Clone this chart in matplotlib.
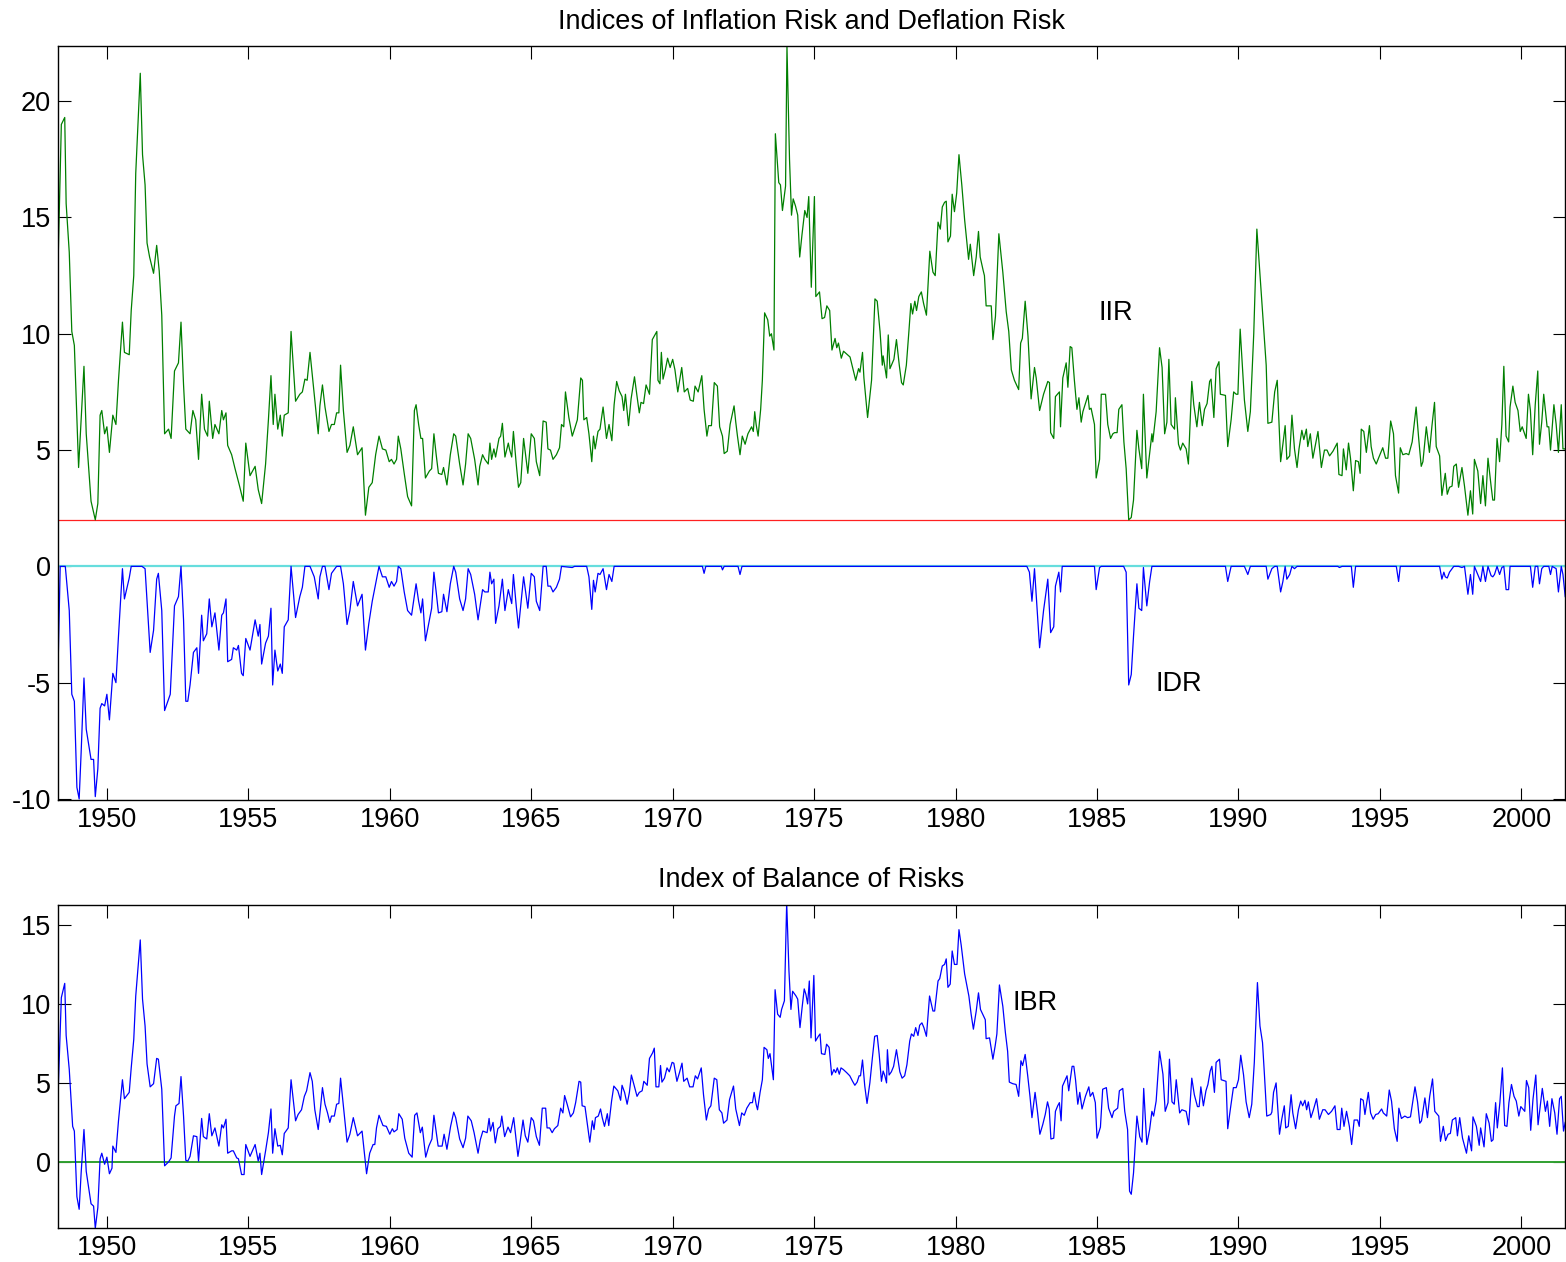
import numpy as np
import matplotlib.pyplot as plt

plt.rcParams['font.family'] = ['Liberation Sans', 'DejaVu Sans']
plt.rcParams['axes.unicode_minus'] = False

# IIR: (year, value)
iir = np.array([
    (1948.27, 12.8), (1948.39, 19.0), (1948.51, 19.3), (1948.56, 15.6), (1948.67, 13.5),
    (1948.76, 10.1), (1948.85, 9.5), (1949.0, 4.25), (1949.19, 8.6), (1949.27, 5.7),
    (1949.44, 2.8), (1949.59, 2.0), (1949.68, 2.7), (1949.76, 6.5), (1949.82, 6.7),
    (1949.92, 5.7), (1950.0, 6.0), (1950.09, 4.9), (1950.21, 6.5), (1950.32, 6.1),
    (1950.41, 8.0), (1950.55, 10.5), (1950.62, 9.2), (1950.79, 9.1), (1950.86, 11.0),
    (1950.95, 12.5), (1951.02, 16.9), (1951.18, 21.2), (1951.26, 17.7), (1951.35, 16.4),
    (1951.42, 13.9), (1951.51, 13.3), (1951.65, 12.6), (1951.76, 13.8), (1951.85, 12.7),
    (1951.94, 10.8), (1952.04, 5.7), (1952.18, 5.9), (1952.27, 5.5), (1952.39, 8.4),
    (1952.53, 8.75), (1952.62, 10.5), (1952.71, 7.8), (1952.79, 5.9), (1952.94, 5.7),
    (1953.04, 6.7), (1953.14, 6.3), (1953.24, 4.6), (1953.35, 7.4), (1953.45, 5.9),
    (1953.56, 5.6), (1953.62, 7.1), (1953.74, 5.5), (1953.82, 6.1), (1953.96, 5.7),
    (1954.06, 6.7), (1954.12, 6.3), (1954.21, 6.6), (1954.27, 5.2), (1954.41, 4.8),
    (1954.53, 4.2), (1954.68, 3.5), (1954.82, 2.8), (1954.91, 5.3), (1955.06, 3.9),
    (1955.24, 4.3), (1955.35, 3.3), (1955.47, 2.7), (1955.61, 4.4), (1955.71, 6.3),
    (1955.8, 8.2), (1955.88, 6.1), (1955.94, 7.4), (1956.04, 5.9), (1956.13, 6.5),
    (1956.2, 5.6), (1956.27, 6.5), (1956.41, 6.6), (1956.51, 10.1), (1956.67, 7.1),
    (1956.82, 7.4), (1956.91, 7.5), (1957.0, 8.05), (1957.08, 8.0), (1957.18, 9.2),
    (1957.33, 7.4), (1957.47, 5.7), (1957.53, 6.9), (1957.62, 7.8), (1957.71, 6.85),
    (1957.85, 5.8), (1957.94, 6.1), (1958.04, 6.1), (1958.12, 6.6), (1958.2, 6.6),
    (1958.26, 8.65), (1958.36, 6.7), (1958.49, 4.9), (1958.59, 5.2), (1958.71, 6.0),
    (1958.86, 4.8), (1959.02, 5.1), (1959.14, 2.2), (1959.26, 3.4), (1959.38, 3.6),
    (1959.5, 4.8), (1959.62, 5.6), (1959.74, 5.05), (1959.86, 5.0), (1959.98, 4.5),
    (1960.06, 4.6), (1960.15, 4.4), (1960.24, 4.6), (1960.3, 5.6), (1960.39, 5.05),
    (1960.51, 4.0), (1960.63, 3.0), (1960.77, 2.6), (1960.87, 6.7), (1960.93, 6.95),
    (1961.02, 6.1), (1961.1, 5.5), (1961.16, 5.5), (1961.26, 3.8), (1961.4, 4.1),
    (1961.48, 4.2), (1961.56, 5.7), (1961.64, 4.8), (1961.72, 4.0), (1961.84, 3.95),
    (1961.9, 4.25), (1962.02, 3.5), (1962.14, 4.8), (1962.26, 5.7), (1962.33, 5.6),
    (1962.47, 4.4), (1962.59, 3.5), (1962.68, 4.4), (1962.77, 5.7), (1962.86, 5.5),
    (1963.0, 4.6), (1963.12, 3.5), (1963.18, 4.3), (1963.28, 4.8), (1963.36, 4.6),
    (1963.48, 4.4), (1963.54, 5.3), (1963.6, 4.6), (1963.68, 5.05), (1963.74, 4.7),
    (1963.86, 5.5), (1963.92, 5.6), (1963.98, 6.15), (1964.07, 4.7), (1964.19, 5.3),
    (1964.23, 5.05), (1964.31, 4.7), (1964.37, 5.8), (1964.47, 4.4), (1964.55, 3.4),
    (1964.63, 3.6), (1964.73, 5.5), (1964.88, 4.0), (1965.0, 5.7), (1965.11, 5.5),
    (1965.18, 4.5), (1965.3, 3.9), (1965.42, 6.25), (1965.53, 6.2), (1965.59, 5.05),
    (1965.68, 5.0), (1965.77, 4.6), (1965.89, 4.8), (1966.0, 5.1), (1966.07, 6.1),
    (1966.15, 6.0), (1966.21, 7.5), (1966.33, 6.4), (1966.45, 5.6), (1966.53, 5.9),
    (1966.63, 6.3), (1966.75, 8.1), (1966.81, 8.0), (1966.86, 6.3), (1966.96, 6.4),
    (1967.04, 5.7), (1967.14, 4.5), (1967.2, 5.6), (1967.26, 5.05), (1967.36, 5.8),
    (1967.43, 5.9), (1967.54, 6.85), (1967.66, 5.5), (1967.75, 6.1), (1967.85, 5.4),
    (1967.93, 6.95), (1968.02, 7.95), (1968.11, 7.55), (1968.21, 7.3), (1968.27, 6.7),
    (1968.33, 7.4), (1968.44, 6.05), (1968.53, 7.2), (1968.65, 8.15), (1968.73, 7.4),
    (1968.82, 6.6), (1968.88, 7.05), (1968.97, 7.0), (1969.06, 7.8), (1969.18, 7.4),
    (1969.28, 9.75), (1969.44, 10.1), (1969.48, 8.0), (1969.55, 7.85), (1969.6, 9.2),
    (1969.66, 8.05), (1969.74, 8.45), (1969.82, 8.95), (1969.91, 8.55), (1970.0, 8.9),
    (1970.08, 8.45), (1970.18, 7.5), (1970.32, 8.55), (1970.41, 7.5), (1970.53, 7.65),
    (1970.62, 7.15), (1970.73, 7.1), (1970.79, 7.75), (1970.9, 7.5), (1971.03, 8.2),
    (1971.11, 6.75), (1971.21, 5.6), (1971.27, 6.05), (1971.37, 6.05), (1971.47, 7.9),
    (1971.58, 7.75), (1971.66, 6.0), (1971.76, 5.6), (1971.82, 4.85), (1971.93, 4.95),
    (1972.03, 6.1), (1972.17, 6.9), (1972.23, 6.2), (1972.29, 5.6), (1972.38, 4.8),
    (1972.46, 5.6), (1972.56, 5.25), (1972.66, 5.7), (1972.79, 6.0), (1972.85, 5.8),
    (1972.9, 6.65), (1972.95, 6.1), (1973.02, 5.6), (1973.11, 6.75), (1973.17, 8.0),
    (1973.25, 10.9), (1973.36, 10.6), (1973.43, 9.9), (1973.49, 10.0), (1973.58, 9.3),
    (1973.63, 18.6), (1973.75, 16.5), (1973.81, 16.4), (1973.88, 15.3), (1973.99, 16.35),
    (1974.04, 22.35), (1974.13, 17.5), (1974.2, 15.1), (1974.26, 15.8), (1974.34, 15.5),
    (1974.42, 15.1), (1974.49, 13.3), (1974.57, 14.25), (1974.67, 15.3), (1974.75, 15.0),
    (1974.81, 15.9), (1974.9, 12.0), (1975.01, 15.9), (1975.06, 11.6), (1975.19, 11.8),
    (1975.28, 10.65), (1975.37, 10.7), (1975.45, 11.2), (1975.55, 11.0), (1975.63, 9.3),
    (1975.74, 9.8), (1975.8, 9.4), (1975.86, 9.6), (1975.96, 8.95), (1976.04, 9.25),
    (1976.27, 9.0), (1976.37, 8.5), (1976.47, 8.0), (1976.57, 8.5), (1976.62, 8.35),
    (1976.71, 9.2), (1976.76, 8.1), (1976.89, 6.4), (1977.03, 8.0), (1977.15, 11.5),
    (1977.23, 11.4), (1977.33, 10.1), (1977.41, 8.65), (1977.44, 9.05), (1977.56, 8.1),
    (1977.62, 9.95), (1977.68, 8.5), (1977.82, 8.9), (1977.91, 9.75), (1978.01, 8.65),
    (1978.09, 7.9), (1978.15, 7.8), (1978.26, 8.65), (1978.35, 10.1), (1978.42, 11.3),
    (1978.48, 10.85), (1978.56, 11.4), (1978.62, 11.0), (1978.7, 11.6), (1978.79, 11.8),
    (1978.87, 11.3), (1978.97, 10.8), (1979.09, 13.55), (1979.2, 12.65), (1979.28, 12.5),
    (1979.38, 14.8), (1979.46, 14.5), (1979.53, 15.45), (1979.61, 15.65), (1979.67, 15.7),
    (1979.73, 13.95), (1979.82, 14.2), (1979.88, 16.0), (1979.96, 15.25), (1980.04, 16.05),
    (1980.12, 17.7), (1980.22, 16.4), (1980.32, 14.9), (1980.4, 13.95), (1980.46, 13.2),
    (1980.52, 13.85), (1980.64, 12.5), (1980.73, 13.3), (1980.81, 14.4), (1980.87, 13.3),
    (1980.97, 12.75), (1981.02, 12.5), (1981.08, 11.2), (1981.26, 11.2), (1981.32, 9.75),
    (1981.41, 10.75), (1981.53, 14.3), (1981.67, 12.65), (1981.79, 10.95), (1981.88, 10.1),
    (1981.97, 8.45), (1982.08, 8.0), (1982.23, 7.6), (1982.3, 9.6), (1982.36, 9.8),
    (1982.46, 11.4), (1982.56, 9.9), (1982.67, 7.2), (1982.79, 8.55), (1982.85, 8.1),
    (1982.97, 6.7), (1983.11, 7.4), (1983.26, 7.95), (1983.32, 7.9), (1983.36, 5.75),
    (1983.47, 5.5), (1983.53, 7.3), (1983.67, 7.5), (1983.71, 6.0), (1983.79, 8.1),
    (1983.91, 8.75), (1983.97, 7.7), (1984.05, 9.45), (1984.11, 9.4), (1984.2, 8.0),
    (1984.29, 6.75), (1984.36, 7.25), (1984.44, 6.2), (1984.5, 6.65), (1984.68, 7.35),
    (1984.73, 6.75), (1984.79, 6.8), (1984.91, 6.1), (1984.97, 3.8), (1985.09, 4.6),
    (1985.15, 7.4), (1985.3, 7.4), (1985.38, 6.1), (1985.48, 5.5), (1985.56, 5.7),
    (1985.62, 5.75), (1985.71, 5.75), (1985.77, 6.75), (1985.88, 6.95), (1985.95, 5.35),
    (1986.03, 4.2), (1986.12, 2.0), (1986.21, 2.1), (1986.29, 2.85), (1986.41, 5.85),
    (1986.48, 5.05), (1986.58, 4.2), (1986.64, 7.4), (1986.76, 3.8), (1986.86, 4.85),
    (1986.94, 5.7), (1986.97, 5.35), (1987.09, 6.65), (1987.21, 9.4), (1987.3, 8.55),
    (1987.39, 5.7), (1987.47, 6.2), (1987.54, 8.9), (1987.62, 6.1), (1987.74, 5.9),
    (1987.77, 7.25), (1987.88, 5.25), (1987.95, 5.0), (1988.03, 5.3), (1988.15, 5.05),
    (1988.23, 4.4), (1988.35, 7.95), (1988.42, 6.95), (1988.53, 6.0), (1988.62, 7.05),
    (1988.72, 6.05), (1988.8, 6.75), (1988.89, 7.0), (1988.98, 7.95), (1989.03, 8.05),
    (1989.13, 6.4), (1989.21, 8.5), (1989.31, 8.8), (1989.36, 7.4), (1989.54, 7.35),
    (1989.62, 5.15), (1989.74, 6.3), (1989.83, 7.5), (1989.92, 7.4), (1989.98, 7.4),
    (1990.06, 10.2), (1990.21, 7.15), (1990.33, 5.8), (1990.42, 6.65), (1990.54, 10.0),
    (1990.65, 14.5), (1990.86, 10.75), (1990.98, 8.65), (1991.04, 6.15), (1991.18, 6.2),
    (1991.28, 7.5), (1991.37, 8.0), (1991.49, 4.5), (1991.57, 5.25), (1991.65, 6.05),
    (1991.71, 4.6), (1991.81, 4.75), (1991.89, 6.5), (1991.98, 5.05), (1992.07, 4.25),
    (1992.14, 5.05), (1992.24, 5.85), (1992.31, 5.45), (1992.4, 5.9), (1992.45, 5.15),
    (1992.54, 5.7), (1992.63, 4.65), (1992.71, 5.15), (1992.81, 5.8), (1992.93, 4.25),
    (1993.04, 5.0), (1993.13, 5.0), (1993.22, 4.75), (1993.34, 4.95), (1993.49, 5.3),
    (1993.55, 3.95), (1993.66, 3.9), (1993.71, 5.05), (1993.81, 4.15), (1993.89, 5.3),
    (1993.96, 4.65), (1994.06, 3.25), (1994.14, 4.55), (1994.24, 4.5), (1994.3, 4.0),
    (1994.34, 5.9), (1994.43, 5.8), (1994.52, 4.9), (1994.63, 6.05), (1994.69, 5.15),
    (1994.77, 4.65), (1994.87, 4.4), (1994.95, 4.65), (1995.1, 5.1), (1995.2, 4.65),
    (1995.28, 4.65), (1995.38, 6.25), (1995.48, 5.7), (1995.55, 3.9), (1995.66, 3.15),
    (1995.72, 5.1), (1995.81, 4.8), (1995.93, 4.85), (1996.02, 4.8), (1996.14, 5.35),
    (1996.28, 6.85), (1996.37, 5.5), (1996.46, 4.3), (1996.52, 4.5), (1996.64, 6.0),
    (1996.75, 4.9), (1996.84, 6.05), (1996.93, 7.05), (1996.99, 5.15), (1997.11, 4.75),
    (1997.19, 3.05), (1997.31, 4.0), (1997.38, 3.1), (1997.46, 3.4), (1997.55, 3.45),
    (1997.61, 4.3), (1997.7, 4.4), (1997.78, 3.4), (1997.9, 4.25), (1997.99, 3.45),
    (1998.11, 2.2), (1998.2, 3.25), (1998.28, 2.25), (1998.34, 4.6), (1998.46, 4.1),
    (1998.56, 2.7), (1998.64, 3.9), (1998.73, 2.6), (1998.82, 4.65), (1998.93, 3.45),
    (1998.99, 2.85), (1999.05, 2.85), (1999.14, 5.5), (1999.23, 4.5), (1999.31, 6.1),
    (1999.38, 8.6), (1999.46, 5.6), (1999.55, 5.35), (1999.6, 6.85), (1999.7, 7.75),
    (1999.78, 7.05), (1999.88, 6.7), (1999.96, 5.8), (2000.03, 6.0), (2000.17, 5.5),
    (2000.25, 7.4), (2000.32, 6.7), (2000.4, 4.8), (2000.49, 6.95), (2000.58, 8.4),
    (2000.64, 5.25), (2000.72, 6.2), (2000.79, 7.4), (2000.91, 6.0), (2000.97, 6.0),
    (2001.03, 5.0), (2001.15, 6.95), (2001.23, 6.1), (2001.31, 4.9), (2001.41, 6.95),
    (2001.47, 5.05), (2001.55, 5.05),
])

# IDR: (year, value)
idr = np.array([
    (1948.27, -4.6), (1948.35, 0.0), (1948.53, 0.0), (1948.67, -1.9), (1948.76, -5.5),
    (1948.85, -5.8), (1948.94, -9.5), (1949.02, -10.0), (1949.09, -8.0), (1949.19, -4.8),
    (1949.27, -7.0), (1949.44, -8.3), (1949.53, -8.3), (1949.59, -9.9), (1949.68, -8.7),
    (1949.76, -6.1), (1949.82, -5.9), (1949.92, -6.0), (1950.0, -5.5), (1950.09, -6.6),
    (1950.21, -4.6), (1950.32, -5.0), (1950.41, -3.0), (1950.55, -0.1), (1950.62, -1.4),
    (1950.79, -0.5), (1950.86, 0.0), (1951.24, 0.0), (1951.35, -0.1), (1951.53, -3.7),
    (1951.65, -2.75), (1951.76, -0.55), (1951.82, -0.3), (1951.94, -1.9), (1952.04, -6.2),
    (1952.24, -5.5), (1952.39, -1.7), (1952.53, -1.3), (1952.62, 0.0), (1952.71, -2.3),
    (1952.79, -5.8), (1952.86, -5.8), (1952.94, -5.1), (1953.06, -3.7), (1953.18, -3.5),
    (1953.24, -4.6), (1953.35, -2.1), (1953.41, -3.2), (1953.53, -2.9), (1953.62, -1.4),
    (1953.71, -2.6), (1953.82, -2.0), (1953.96, -3.6), (1954.06, -2.1), (1954.12, -2.0),
    (1954.21, -1.4), (1954.27, -4.1), (1954.41, -4.0), (1954.47, -3.5), (1954.59, -3.6),
    (1954.65, -3.4), (1954.76, -4.6), (1954.82, -4.7), (1954.91, -3.1), (1955.06, -3.6),
    (1955.24, -2.3), (1955.35, -3.0), (1955.41, -2.5), (1955.47, -4.2), (1955.61, -3.3),
    (1955.71, -3.0), (1955.8, -1.8), (1955.86, -5.1), (1955.94, -3.6), (1956.04, -4.5),
    (1956.13, -4.2), (1956.2, -4.6), (1956.27, -2.6), (1956.41, -2.3), (1956.51, 0.0),
    (1956.67, -2.2), (1956.82, -1.3), (1956.91, -0.9), (1957.0, 0.0), (1957.18, 0.0),
    (1957.33, -0.45), (1957.47, -1.4), (1957.53, -0.45), (1957.62, 0.0), (1957.71, 0.0),
    (1957.85, -1.0), (1957.94, -0.3), (1958.12, 0.0), (1958.26, 0.0), (1958.36, -0.75),
    (1958.49, -2.5), (1958.59, -1.9), (1958.71, -0.65), (1958.86, -1.7), (1959.02, -1.2),
    (1959.14, -3.6), (1959.26, -2.45), (1959.38, -1.5), (1959.5, -0.75), (1959.62, 0.0),
    (1959.74, -0.45), (1959.86, -0.45), (1959.98, -0.9), (1960.06, -0.65), (1960.15, -0.85),
    (1960.24, -0.65), (1960.3, 0.0), (1960.39, -0.1), (1960.51, -1.1), (1960.63, -1.9),
    (1960.77, -2.1), (1960.93, -0.75), (1961.02, -1.5), (1961.1, -2.0), (1961.16, -1.4),
    (1961.26, -3.2), (1961.4, -2.3), (1961.48, -1.8), (1961.56, -0.25), (1961.64, -1.1),
    (1961.72, -2.0), (1961.84, -1.95), (1961.9, -1.2), (1962.02, -1.95), (1962.14, -0.75),
    (1962.26, 0.0), (1962.33, -0.25), (1962.47, -1.4), (1962.59, -1.9), (1962.68, -1.4),
    (1962.77, -0.1), (1962.86, -0.35), (1963.0, -1.2), (1963.12, -2.3), (1963.28, -1.0),
    (1963.36, -1.1), (1963.48, -1.1), (1963.54, -0.25), (1963.6, -0.75), (1963.68, -0.55),
    (1963.74, -2.45), (1963.86, -1.7), (1963.98, -0.55), (1964.07, -1.9), (1964.19, -1.0),
    (1964.31, -1.6), (1964.37, -0.35), (1964.47, -1.7), (1964.55, -2.65), (1964.73, -0.45),
    (1964.88, -1.8), (1965.0, -0.3), (1965.11, -0.45), (1965.18, -1.5), (1965.3, -1.9),
    (1965.42, 0.0), (1965.53, 0.0), (1965.59, -0.85), (1965.68, -0.85), (1965.77, -1.1),
    (1965.89, -0.9), (1966.0, -0.55), (1966.07, 0.0), (1966.45, -0.05), (1966.53, 0.0),
    (1966.96, 0.0), (1967.04, -0.45), (1967.14, -1.85), (1967.2, -0.6), (1967.26, -1.1),
    (1967.36, -0.3), (1967.43, -0.35), (1967.54, -0.1), (1967.66, -1.0), (1967.75, -0.35),
    (1967.85, -0.65), (1967.93, 0.0), (1971.05, 0.0), (1971.11, -0.3), (1971.17, 0.0),
    (1971.72, 0.0), (1971.76, -0.15), (1971.82, 0.0), (1972.31, 0.0), (1972.38, -0.35),
    (1972.45, 0.0), (1982.52, 0.0), (1982.61, -0.25), (1982.7, -1.5), (1982.79, -0.1),
    (1982.97, -3.5), (1983.11, -1.9), (1983.26, -0.55), (1983.36, -2.85), (1983.47, -2.6),
    (1983.53, -0.85), (1983.65, -0.25), (1983.71, -1.1), (1983.77, 0.0), (1984.91, 0.0),
    (1984.97, -1.0), (1985.09, -0.05), (1985.15, 0.0), (1985.94, 0.0), (1986.03, -0.25),
    (1986.12, -5.1), (1986.21, -4.65), (1986.29, -3.0), (1986.41, -0.75), (1986.48, -1.8),
    (1986.58, -1.9), (1986.64, -0.05), (1986.76, -1.7), (1986.86, -0.65), (1986.94, 0.0),
    (1989.54, 0.0), (1989.62, -0.65), (1989.74, 0.0), (1990.21, 0.0), (1990.33, -0.35),
    (1990.42, 0.0), (1990.98, 0.0), (1991.04, -0.55), (1991.18, -0.1), (1991.28, 0.0),
    (1991.37, 0.0), (1991.49, -1.1), (1991.57, -0.65), (1991.65, 0.0), (1991.71, -0.55),
    (1991.81, -0.35), (1991.89, 0.0), (1991.98, -0.1), (1992.07, 0.0), (1993.51, 0.0),
    (1993.57, -0.05), (1993.66, 0.0), (1993.99, 0.0), (1994.06, -0.9), (1994.14, 0.0),
    (1995.58, 0.0), (1995.66, -0.65), (1995.72, 0.0), (1997.11, 0.0), (1997.19, -0.55),
    (1997.26, -0.25), (1997.31, -0.45), (1997.38, -0.5), (1997.46, -0.25), (1997.55, -0.1),
    (1997.61, 0.0), (1997.78, 0.0), (1997.9, -0.05), (1997.99, 0.0), (1998.11, -1.2),
    (1998.2, -0.35), (1998.28, -1.2), (1998.34, 0.0), (1998.46, -0.35), (1998.56, -0.65),
    (1998.64, 0.0), (1998.73, -0.65), (1998.82, 0.0), (1998.93, -0.4), (1998.99, -0.45),
    (1999.05, -0.35), (1999.14, 0.0), (1999.23, -0.35), (1999.31, -0.05), (1999.38, 0.0),
    (1999.46, -1.0), (1999.55, -1.0), (1999.6, 0.0), (2000.32, 0.0), (2000.4, -0.9),
    (2000.49, 0.0), (2000.58, 0.0), (2000.64, -0.75), (2000.72, -0.1), (2000.79, 0.0),
    (2000.97, 0.0), (2001.03, -0.35), (2001.09, 0.0), (2001.23, -0.1), (2001.31, -1.1),
    (2001.41, 0.0), (2001.47, -0.35), (2001.55, -1.3),
])

# IBR: (year, value)
ibr = np.array([
    (1948.27, 4.05), (1948.39, 10.4), (1948.51, 11.3), (1948.56, 8.0), (1948.67, 5.85),
    (1948.79, 2.25), (1948.85, 1.95), (1948.94, -2.2), (1949.02, -3.0), (1949.09, -0.7),
    (1949.19, 2.05), (1949.27, -0.6), (1949.44, -2.65), (1949.53, -2.8), (1949.59, -4.2),
    (1949.68, -2.9), (1949.76, 0.2), (1949.82, 0.55), (1949.92, -0.15), (1950.0, 0.3),
    (1950.09, -0.75), (1950.18, -0.4), (1950.21, 1.0), (1950.32, 0.6), (1950.41, 2.6),
    (1950.55, 5.2), (1950.62, 4.0), (1950.79, 4.4), (1950.86, 5.95), (1950.95, 7.75),
    (1951.02, 10.5), (1951.18, 14.05), (1951.26, 10.3), (1951.35, 8.6), (1951.42, 6.2),
    (1951.53, 4.75), (1951.65, 4.95), (1951.76, 6.55), (1951.82, 6.5), (1951.94, 4.6),
    (1952.04, -0.25), (1952.18, 0.0), (1952.27, 0.25), (1952.39, 2.9), (1952.44, 3.55),
    (1952.55, 3.7), (1952.62, 5.4), (1952.71, 2.9), (1952.79, 0.1), (1952.86, 0.05),
    (1952.94, 0.35), (1953.06, 1.65), (1953.18, 1.6), (1953.24, 0.05), (1953.35, 2.75),
    (1953.41, 1.6), (1953.53, 1.45), (1953.62, 3.05), (1953.71, 1.65), (1953.82, 2.15),
    (1953.96, 1.0), (1954.06, 2.35), (1954.12, 2.15), (1954.21, 2.7), (1954.27, 0.55),
    (1954.41, 0.7), (1954.47, 0.7), (1954.59, 0.25), (1954.65, 0.2), (1954.76, -0.8),
    (1954.85, -0.8), (1954.91, 1.1), (1955.06, 0.35), (1955.24, 1.1), (1955.35, 0.05),
    (1955.41, 0.55), (1955.47, -0.8), (1955.61, 0.7), (1955.71, 1.85), (1955.8, 3.35),
    (1955.86, 0.55), (1955.94, 2.1), (1956.04, 1.0), (1956.13, 1.05), (1956.2, 0.45),
    (1956.27, 1.8), (1956.41, 2.15), (1956.51, 5.2), (1956.67, 2.6), (1956.76, 3.0),
    (1956.88, 3.3), (1956.98, 4.15), (1957.06, 4.5), (1957.18, 5.65), (1957.26, 5.1),
    (1957.35, 3.3), (1957.47, 2.05), (1957.55, 3.4), (1957.62, 4.7), (1957.71, 3.65),
    (1957.8, 3.1), (1957.88, 2.5), (1957.94, 2.9), (1958.04, 2.9), (1958.12, 3.65),
    (1958.2, 3.7), (1958.26, 5.3), (1958.36, 3.55), (1958.49, 1.25), (1958.59, 1.75),
    (1958.71, 2.8), (1958.86, 1.65), (1959.02, 1.95), (1959.18, -0.75), (1959.29, 0.55),
    (1959.41, 1.1), (1959.47, 1.1), (1959.53, 2.15), (1959.62, 2.95), (1959.76, 2.3),
    (1959.88, 2.25), (1960.0, 1.75), (1960.09, 2.1), (1960.15, 1.9), (1960.26, 2.05),
    (1960.32, 3.05), (1960.44, 2.7), (1960.53, 1.5), (1960.67, 0.55), (1960.79, 0.3),
    (1960.88, 2.95), (1960.96, 3.1), (1961.08, 1.85), (1961.15, 2.2), (1961.27, 0.3),
    (1961.38, 1.0), (1961.49, 1.45), (1961.56, 2.95), (1961.71, 1.0), (1961.85, 1.0),
    (1961.92, 1.75), (1962.02, 0.8), (1962.15, 2.25), (1962.26, 3.15), (1962.33, 2.8),
    (1962.47, 1.45), (1962.59, 0.9), (1962.68, 1.5), (1962.76, 2.9), (1962.88, 2.6),
    (1962.98, 1.85), (1963.12, 0.55), (1963.2, 1.4), (1963.29, 1.95), (1963.44, 1.85),
    (1963.51, 2.75), (1963.56, 1.95), (1963.65, 2.5), (1963.73, 1.2), (1963.82, 2.1),
    (1963.91, 2.25), (1963.96, 2.9), (1964.06, 1.6), (1964.18, 2.2), (1964.27, 1.85),
    (1964.38, 2.8), (1964.53, 0.35), (1964.61, 1.3), (1964.71, 2.65), (1964.79, 1.65),
    (1964.88, 1.25), (1965.0, 2.8), (1965.08, 2.6), (1965.18, 1.6), (1965.29, 1.05),
    (1965.39, 3.4), (1965.51, 3.4), (1965.56, 2.15), (1965.65, 2.15), (1965.74, 1.85),
    (1965.82, 2.1), (1965.94, 2.3), (1966.04, 3.4), (1966.12, 3.1), (1966.18, 4.2),
    (1966.27, 3.65), (1966.39, 2.85), (1966.49, 3.1), (1966.57, 3.75), (1966.69, 5.1),
    (1966.75, 5.05), (1966.8, 3.55), (1966.9, 3.5), (1966.98, 2.45), (1967.07, 1.25),
    (1967.16, 2.6), (1967.22, 2.05), (1967.27, 2.8), (1967.37, 2.9), (1967.45, 3.35),
    (1967.51, 2.8), (1967.59, 2.25), (1967.69, 3.05), (1967.74, 2.3), (1967.84, 3.85),
    (1967.92, 4.8), (1968.06, 4.5), (1968.16, 3.9), (1968.21, 4.85), (1968.3, 4.4),
    (1968.39, 3.65), (1968.47, 4.4), (1968.54, 5.5), (1968.63, 4.9), (1968.74, 4.15),
    (1968.82, 4.4), (1968.92, 4.5), (1968.98, 5.1), (1969.1, 4.85), (1969.18, 6.55),
    (1969.29, 6.9), (1969.35, 7.2), (1969.41, 4.75), (1969.51, 4.75), (1969.57, 6.1),
    (1969.62, 5.05), (1969.71, 5.3), (1969.8, 5.95), (1969.88, 5.7), (1969.98, 6.3),
    (1970.04, 6.25), (1970.15, 5.1), (1970.24, 5.65), (1970.33, 6.25), (1970.39, 5.1),
    (1970.51, 5.3), (1970.6, 4.75), (1970.72, 4.75), (1970.8, 5.45), (1970.88, 5.25),
    (1971.01, 5.95), (1971.09, 4.25), (1971.19, 2.65), (1971.27, 3.35), (1971.35, 3.55),
    (1971.47, 5.3), (1971.56, 5.2), (1971.65, 3.3), (1971.74, 3.1), (1971.8, 2.45),
    (1971.92, 2.65), (1972.01, 3.95), (1972.15, 4.8), (1972.23, 3.35), (1972.36, 2.3),
    (1972.44, 3.1), (1972.53, 2.95), (1972.62, 3.4), (1972.74, 3.75), (1972.82, 3.75),
    (1972.88, 4.4), (1972.95, 3.65), (1973.0, 3.3), (1973.09, 4.4), (1973.17, 5.2),
    (1973.23, 7.25), (1973.33, 7.1), (1973.38, 6.55), (1973.44, 6.85), (1973.56, 5.2),
    (1973.62, 10.9), (1973.71, 9.35), (1973.8, 9.15), (1973.85, 9.65), (1973.95, 10.2),
    (1974.03, 16.4), (1974.11, 12.1), (1974.18, 9.65), (1974.24, 10.8), (1974.36, 10.5),
    (1974.42, 10.3), (1974.5, 8.5), (1974.58, 9.85), (1974.65, 10.95), (1974.71, 10.6),
    (1974.77, 10.0), (1974.83, 11.45), (1974.89, 7.85), (1974.99, 11.8), (1975.05, 7.65),
    (1975.15, 7.95), (1975.21, 8.1), (1975.26, 6.85), (1975.38, 6.8), (1975.44, 7.45),
    (1975.53, 7.25), (1975.62, 5.5), (1975.7, 5.85), (1975.76, 5.65), (1975.82, 5.95),
    (1975.89, 5.55), (1975.95, 5.95), (1976.03, 5.85), (1976.15, 5.65), (1976.26, 5.45),
    (1976.36, 5.1), (1976.44, 4.85), (1976.52, 5.05), (1976.59, 5.45), (1976.64, 5.45),
    (1976.71, 6.45), (1976.79, 4.8), (1976.87, 3.7), (1976.97, 5.0), (1977.06, 6.6),
    (1977.14, 7.95), (1977.23, 8.0), (1977.3, 6.8), (1977.38, 5.1), (1977.44, 5.75),
    (1977.5, 5.45), (1977.56, 5.0), (1977.59, 7.1), (1977.65, 5.5), (1977.73, 5.7),
    (1977.81, 6.05), (1977.91, 7.1), (1978.03, 5.7), (1978.11, 5.3), (1978.2, 5.45),
    (1978.28, 6.15), (1978.38, 7.65), (1978.44, 8.1), (1978.52, 7.95), (1978.59, 8.5),
    (1978.67, 8.0), (1978.73, 8.65), (1978.81, 8.8), (1978.88, 8.5), (1978.97, 7.95),
    (1979.08, 10.5), (1979.2, 9.55), (1979.26, 9.55), (1979.38, 11.45), (1979.44, 11.6),
    (1979.53, 12.4), (1979.61, 12.5), (1979.67, 12.85), (1979.73, 11.05), (1979.81, 11.25),
    (1979.88, 13.35), (1979.96, 12.5), (1980.05, 12.5), (1980.12, 14.7), (1980.2, 13.7),
    (1980.32, 11.9), (1980.38, 11.35), (1980.47, 10.5), (1980.55, 9.35), (1980.63, 8.4),
    (1980.73, 9.55), (1980.81, 10.7), (1980.88, 9.65), (1980.96, 9.35), (1981.05, 9.0),
    (1981.08, 7.8), (1981.2, 7.85), (1981.32, 6.5), (1981.4, 7.35), (1981.46, 8.1),
    (1981.55, 11.2), (1981.67, 9.85), (1981.76, 8.2), (1981.84, 7.0), (1981.9, 5.05),
    (1982.02, 4.95), (1982.14, 4.9), (1982.23, 4.15), (1982.31, 6.4), (1982.37, 6.1),
    (1982.46, 6.8), (1982.55, 5.45), (1982.63, 4.15), (1982.7, 2.8), (1982.81, 4.4),
    (1982.9, 3.1), (1982.98, 1.75), (1983.08, 2.35), (1983.17, 3.0), (1983.25, 3.8),
    (1983.31, 3.35), (1983.37, 1.45), (1983.47, 1.5), (1983.53, 3.2), (1983.61, 3.55),
    (1983.67, 3.75), (1983.73, 2.6), (1983.78, 4.8), (1983.94, 5.45), (1984.0, 4.5),
    (1984.12, 6.05), (1984.18, 6.05), (1984.24, 5.2), (1984.32, 3.65), (1984.39, 4.4),
    (1984.47, 3.35), (1984.59, 4.15), (1984.71, 4.75), (1984.76, 4.15), (1984.85, 4.4),
    (1984.94, 3.75), (1985.0, 1.5), (1985.12, 2.2), (1985.2, 4.6), (1985.33, 4.7),
    (1985.41, 3.4), (1985.53, 2.8), (1985.59, 3.2), (1985.73, 3.4), (1985.79, 4.5),
    (1985.91, 4.65), (1985.98, 3.2), (1986.08, 2.05), (1986.15, -1.85), (1986.21, -2.05),
    (1986.29, -0.7), (1986.41, 2.9), (1986.51, 1.6), (1986.59, 1.25), (1986.65, 4.65),
    (1986.76, 1.1), (1986.86, 2.05), (1986.94, 3.2), (1987.0, 2.9), (1987.09, 3.85),
    (1987.21, 7.0), (1987.33, 5.55), (1987.41, 3.2), (1987.51, 3.75), (1987.56, 6.5),
    (1987.65, 3.8), (1987.73, 3.65), (1987.8, 5.2), (1987.92, 3.1), (1988.0, 3.3),
    (1988.15, 3.2), (1988.24, 2.35), (1988.35, 5.3), (1988.44, 4.25), (1988.55, 3.5),
    (1988.61, 3.5), (1988.67, 4.75), (1988.76, 3.55), (1988.85, 4.5), (1988.92, 4.9),
    (1989.0, 5.75), (1989.06, 6.05), (1989.15, 4.4), (1989.21, 6.3), (1989.33, 6.5),
    (1989.39, 5.2), (1989.56, 5.1), (1989.62, 2.1), (1989.71, 3.3), (1989.82, 4.7),
    (1989.92, 4.7), (1990.0, 5.2), (1990.08, 6.75), (1990.18, 5.5), (1990.27, 3.8),
    (1990.38, 2.8), (1990.47, 3.65), (1990.56, 6.3), (1990.67, 11.35), (1990.76, 8.6),
    (1990.85, 7.55), (1990.92, 5.45), (1991.0, 2.9), (1991.14, 3.0), (1991.18, 3.15),
    (1991.24, 4.4), (1991.33, 5.0), (1991.45, 1.75), (1991.53, 2.7), (1991.62, 3.55),
    (1991.67, 2.15), (1991.76, 2.25), (1991.86, 4.25), (1991.92, 3.1), (1992.02, 2.1),
    (1992.12, 3.3), (1992.2, 3.85), (1992.27, 3.55), (1992.35, 3.9), (1992.41, 3.3),
    (1992.47, 3.8), (1992.56, 2.8), (1992.65, 3.3), (1992.76, 4.0), (1992.86, 2.7),
    (1992.98, 3.3), (1993.06, 3.3), (1993.18, 3.0), (1993.29, 3.2), (1993.41, 3.55),
    (1993.49, 2.05), (1993.59, 2.05), (1993.65, 3.4), (1993.73, 2.25), (1993.82, 3.2),
    (1993.92, 2.25), (1994.0, 1.1), (1994.09, 2.65), (1994.21, 2.65), (1994.27, 2.25),
    (1994.32, 4.0), (1994.41, 3.9), (1994.47, 3.0), (1994.59, 4.4), (1994.67, 3.1),
    (1994.76, 2.7), (1994.85, 3.0), (1994.94, 3.05), (1995.06, 3.35), (1995.12, 3.1),
    (1995.24, 2.9), (1995.33, 4.55), (1995.41, 3.85), (1995.51, 2.1), (1995.61, 1.3),
    (1995.67, 3.4), (1995.76, 2.75), (1995.88, 2.9), (1995.98, 2.8), (1996.08, 2.85),
    (1996.24, 4.75), (1996.33, 3.8), (1996.41, 2.45), (1996.47, 2.6), (1996.59, 4.05),
    (1996.68, 2.8), (1996.76, 4.15), (1996.86, 5.25), (1996.94, 3.2), (1997.08, 2.9),
    (1997.14, 1.3), (1997.24, 2.25), (1997.32, 1.35), (1997.41, 1.75), (1997.49, 1.8),
    (1997.56, 2.65), (1997.68, 2.8), (1997.74, 1.65), (1997.82, 2.8), (1997.92, 1.5),
    (1998.06, 0.55), (1998.14, 1.65), (1998.24, 0.7), (1998.29, 2.85), (1998.41, 2.25),
    (1998.51, 1.05), (1998.56, 2.15), (1998.68, 0.95), (1998.76, 3.05), (1998.86, 2.45),
    (1998.94, 1.3), (1999.0, 1.4), (1999.09, 3.75), (1999.15, 2.15), (1999.24, 3.75),
    (1999.33, 5.95), (1999.41, 2.3), (1999.49, 2.25), (1999.56, 3.75), (1999.65, 4.9),
    (1999.74, 4.15), (1999.82, 3.85), (1999.91, 2.9), (1999.98, 3.5), (2000.12, 3.2),
    (2000.18, 5.15), (2000.26, 4.7), (2000.33, 2.0), (2000.41, 3.95), (2000.51, 5.5),
    (2000.59, 2.35), (2000.67, 3.55), (2000.74, 4.65), (2000.85, 3.2), (2000.92, 3.85),
    (2001.0, 2.25), (2001.08, 4.0), (2001.18, 3.1), (2001.26, 1.75), (2001.35, 4.0),
    (2001.41, 4.15), (2001.49, 1.95), (2001.55, 2.5),
])

inflation_threshold = 2
year_ticks = list(range(1950, 2001, 5))
top_yticks = [-10, -5, 0, 5, 10, 15, 20]
bottom_yticks = [0, 5, 10, 15]

fs = 19.5
fig = plt.figure(figsize=(15.66, 12.62), dpi=100)
ax1 = fig.add_axes([0.037, 0.366, 0.9625, 0.5975])
ax2 = fig.add_axes([0.037, 0.027, 0.9625, 0.256])

for ax in (ax1, ax2):
    ax.tick_params(direction='in', length=9, width=0.8, top=True, right=True, labelsize=fs, pad=5)
    for sp in ax.spines.values():
        sp.set_linewidth(1.0)
    ax.set_xticks(year_ticks)
    ax.set_xlim(1948.27, 2001.55)

# top panel
ax1.axhline(inflation_threshold, color='#ff2020', lw=0.9)
ax1.axhline(0, color='#66dddd', lw=1.6)
ax1.plot(idr[:, 0], idr[:, 1], color='#0000ff', lw=0.9)
ax1.plot(iir[:, 0], iir[:, 1], color='#007f00', lw=0.9)
ax1.set_ylim(-10.05, 22.37)
ax1.set_yticks(top_yticks)
ax1.set_title('Indices of Inflation Risk and Deflation Risk', fontsize=fs, pad=12)
ax1.text(1985.05, 10.9, 'IIR', fontsize=fs, va='center')
ax1.text(1987.05, -5.05, 'IDR', fontsize=fs, va='center')

# bottom panel
ax2.axhline(0, color='#30a030', lw=1.4)
ax2.plot(ibr[:, 0], ibr[:, 1], color='#0000ff', lw=0.9)
ax2.set_ylim(-4.18, 16.27)
ax2.set_yticks(bottom_yticks)
ax2.set_title('Index of Balance of Risks', fontsize=fs, pad=13)
ax2.text(1982.0, 10.05, 'IBR', fontsize=fs, va='center')

fig.savefig('out.png', dpi=100)
